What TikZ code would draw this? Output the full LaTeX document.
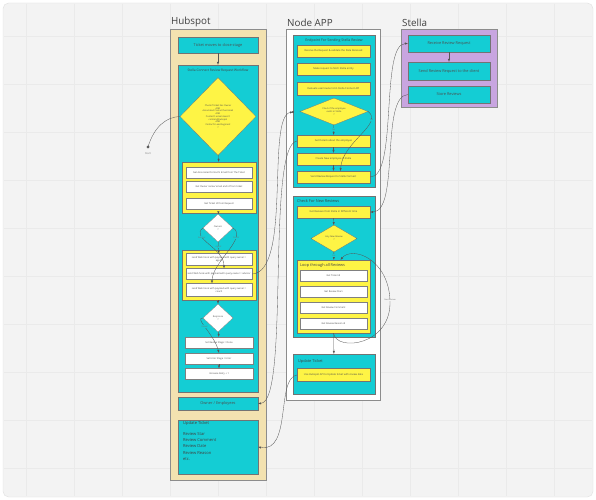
\documentclass[tikz,border=0pt]{standalone}
\usepackage{fontspec}
\setmainfont{Open Sans}
\usetikzlibrary{shapes.geometric}
\definecolor{boardgray}{HTML}{F3F3F3}
\definecolor{gridgray}{HTML}{EAEAEA}
\definecolor{hubtan}{HTML}{F3E2B0}
\definecolor{miroteal}{HTML}{14CDD4}
\definecolor{miroyellow}{HTML}{FEF445}
\definecolor{stellapurple}{HTML}{C8A5E0}
\definecolor{linkgray}{HTML}{555555}

\begin{document}
\begin{tikzpicture}[x=0.5mm, y=-0.5mm]
		\tikzset{>=latex}
		\tikzset{
			colframe/.style={draw=black!45, line width=0.7pt, inner sep=0},
			cbox/.style={draw=black!55, fill=miroteal, line width=0.4pt, inner sep=0.5pt, align=center, text=black!70, font=\fontsize{5.5}{6.5}\selectfont},
			ybox/.style={draw=black!55, fill=miroyellow, line width=0.4pt, inner sep=0.5pt, align=center, text=black!70, font=\fontsize{3.6}{4.3}\selectfont},
			wbox/.style={draw=black!50, fill=white, line width=0.4pt, inner sep=0.5pt, align=center, text=black!70, font=\fontsize{3.4}{4.1}\selectfont},
			ydiam/.style={diamond, draw=black!55, fill=miroyellow, line width=0.4pt, inner sep=0, align=center, text=black!70, font=\fontsize{3.2}{3.9}\selectfont},
			wdiam/.style={diamond, draw=black!50, fill=white, line width=0.4pt, inner sep=0, align=center, text=black!70, font=\fontsize{3.2}{3.9}\selectfont},
			coltitle/.style={anchor=south west, inner sep=0, text=black!75, font=\fontsize{14}{16}\selectfont},
			boxhead/.style={anchor=west, inner sep=0, text=black!75, font=\fontsize{5.5}{6.5}\selectfont},
			conn/.style={draw=linkgray, line width=0.45pt},
			tag/.style={inner sep=0.5pt, text=black!55, font=\fontsize{3}{3.5}\selectfont},
		}
		% board
		\fill[white] (0,0) rectangle (596,500);
		\draw[fill=boardgray, draw=black!12, line width=0.6pt, rounded corners=8] (3,3) rectangle (593,497);
		\foreach \gx in {26,74,...,570} \draw[gridgray, line width=0.3pt] (\gx,4) -- (\gx,496);
		\foreach \gy in {36,84,...,480} \draw[gridgray, line width=0.3pt] (4,\gy) -- (592,\gy);
		\useasboundingbox (0,0) rectangle (596,500);

		% Hubspot
		\node[coltitle] (hubtitle) at (171,27) {Hubspot};
		\node[colframe, fill=hubtan, minimum width=48mm, minimum height=225.5mm] (hub) at (218,254.5) {};
		\node[cbox, minimum width=40mm, minimum height=8mm] (ticket) at (218,45) {Ticket moves to close stage};
		\node[cbox, minimum width=40mm, minimum height=163.5mm] (workflow) at (218,228.5) {};
		\node[boxhead, anchor=center, font=\fontsize{4.6}{5.5}\selectfont] (wftitle) at (218,71) {Stella Connect Review Request Workflow};
		\node[ydiam, minimum width=38mm, minimum height=39mm] (ownercheck) at (218,116.5) {Check if ticket has Owner\\AND\\Associated Contact has Email\\AND\\Contact's email doesn't\\contain@hubspot\\AND\\Contact's Lead Segment\\?};
		\node[ybox, minimum width=37mm, minimum height=25.5mm] (getgroup) at (219,187.5) {};
		\node[wbox, minimum width=33mm, minimum height=5.5mm] (getemail) at (219,172.5) {Get Associated Contact's Email from The Ticket};
		\node[wbox, minimum width=33mm, minimum height=5.5mm] (getowner) at (219,187) {Get Owner name/ email and id from ticket};
		\node[wbox, minimum width=33mm, minimum height=5.5mm] (getid) at (219,203.5) {Get Ticket Id from Request};
		\node[wdiam, minimum width=15mm, minimum height=14mm] (owners) at (218,228) {Owners\\?};
		\node[ybox, minimum width=37mm, minimum height=25mm] (hookgroup) at (219,275) {};
		\node[wbox, minimum width=33mm, minimum height=6mm] (hooka) at (219,259.5) {send Web hook with payload with query owner =\\agent};
		\node[wbox, minimum width=33mm, minimum height=5.5mm] (hookb) at (219,274) {send Web hook with payload with query owner = advisor};
		\node[wbox, minimum width=33mm, minimum height=6.5mm] (hookc) at (219,290) {send Web hook with payload with query owner =\\coach};
		\node[wdiam, minimum width=15mm, minimum height=14mm] (response) at (218,318) {Response\\?};
		\node[wbox, minimum width=34mm, minimum height=5.5mm] (setdone) at (219,342.5) {Set Review Stage = Done};
		\node[wbox, minimum width=34mm, minimum height=5.5mm] (seterror) at (219,358.5) {Set Error Stage = Error};
		\node[wbox, minimum width=34mm, minimum height=5.5mm] (setretry) at (219,374) {Increase Retry + 1};
		\node[cbox, minimum width=40mm, minimum height=6.5mm] (ownerempl) at (218,403.5) {Owner / Employees};
		\node[cbox, minimum width=40mm, minimum height=27mm] (hubupd) at (218,447) {};
		\node[boxhead, anchor=north west, align=left, font=\fontsize{5.8}{9}\selectfont] (hubupdtext) at (183,421.5) {Update Ticket\\[6pt]Review Star\\Review Comment\\Review Date\\Review Reason\\etc.};

		% Node APP
		\node[coltitle] (nodetitle) at (287,27) {Node APP};
		\node[colframe, fill=white, minimum width=47mm, minimum height=185.5mm] (nodeapp) at (333,214.5) {};
		\node[cbox, minimum width=41mm, minimum height=76mm] (endpoint) at (334,111) {};
		\node[boxhead, anchor=center, font=\fontsize{5}{6}\selectfont] (eptitle) at (334,40.5) {Endpoint For Sending Stella Review};
		\node[ybox, minimum width=36.5mm, minimum height=6mm] (receive) at (333.5,51) {Receive the Request \& validate the Data Received};
		\node[ybox, minimum width=36.5mm, minimum height=6mm] (fetch) at (333.5,69) {Make request to fetch Stella entity};
		\node[ybox, minimum width=36.5mm, minimum height=6.5mm] (evaluate) at (333.5,88.5) {Evaluate user/owner id in Stella Connect API};
		\node[ydiam, aspect=2.5, minimum width=34mm, minimum height=13.5mm] (empcheck) at (334,111.5) {Check if the employee\\exists in Stella\\?};
		\node[ybox, minimum width=36.5mm, minimum height=6mm] (details) at (333.5,141) {Get Details about the employee};
		\node[ybox, minimum width=36.5mm, minimum height=6mm] (createemp) at (333.5,159) {Create New employee in Stella};
		\node[ybox, minimum width=36.5mm, minimum height=6mm] (sendreq) at (333.5,177) {Send Review Request to Stella Connect};
		\node[cbox, minimum width=41mm, minimum height=70.5mm] (checknew) at (334,266.5) {};
		\node[boxhead] (cntitle) at (297,201.5) {Check For New Reviews};
		\node[ybox, minimum width=36.5mm, minimum height=6mm] (getrev) at (333.5,212) {Get Reviews from Stella in Different time};
		\node[ydiam, aspect=1.7, minimum width=23mm, minimum height=13.5mm] (anynew) at (334,238.5) {Any New Review\\?};
		\node[ybox, minimum width=36.5mm, minimum height=36.5mm] (loop) at (333.5,296.5) {};
		\node[boxhead] (looptitle) at (300,265.5) {Loop through all Reviews};
		\node[wbox, minimum width=33.5mm, minimum height=5.5mm] (revticket) at (333.5,276) {Get Ticket id};
		\node[wbox, minimum width=33.5mm, minimum height=5.5mm] (revstars) at (333.5,292) {Get Review Stars};
		\node[wbox, minimum width=33.5mm, minimum height=5.5mm] (revcomment) at (333.5,308) {Get Review Comment};
		\node[wbox, minimum width=33.5mm, minimum height=5.5mm] (revreason) at (333.5,324) {Get Review Reason id};
		\node[cbox, minimum width=41mm, minimum height=20mm] (nodeupd) at (334,374) {};
		\node[boxhead] (nutitle) at (298,361.5) {Update Ticket};
		\node[ybox, minimum width=36.5mm, minimum height=6.5mm] (useapi) at (333.5,375) {Use Hubspot API to Update ticket with review data};

		% Stella
		\node[coltitle] (stellatitle) at (402,27) {Stella};
		\node[colframe, fill=stellapurple, minimum width=48mm, minimum height=39mm] (stella) at (449,68) {};
		\node[cbox, minimum width=41mm, minimum height=8.5mm] (recv) at (449,43.5) {Receive Review Request};
		\node[cbox, minimum width=41mm, minimum height=9mm] (sendclient) at (449,71) {Send Review Request to the client};
		\node[cbox, minimum width=41mm, minimum height=8.5mm] (store) at (449,94.5) {Store Reviews};

		% start point
		\coordinate (start) at (148,147);
		\filldraw[linkgray] (start) circle (1.3);
		\node[tag, font=\fontsize{3.6}{4}\selectfont] (starttag) at (148,153.5) {Start};
		\draw[conn] (start) .. controls (154,127) and (166,117) .. (ownercheck.west);

		% Hubspot links
		\draw[conn,->] (ticket) -- (workflow);
		\draw[conn,->] (ownercheck) -- (getgroup);
		\draw[conn,->] (getgroup) -- (owners);
		\draw[conn,->] (owners) -- node[tag, fill=miroteal, pos=0.45] {Agent} (hooka);
		\draw[conn,->] (owners.west) .. controls (190,238) and (224,248) .. node[tag, fill=miroteal, pos=0.3] {Advisor} ([xshift=2.5mm]hookb.north);
		\draw[conn,->] (owners.east) .. controls (248,238) and (212,262) .. node[tag, fill=miroteal, pos=0.25] {Coach} ([xshift=-3.5mm]hookc.north);
		\draw[conn,->] (hookgroup.south -| response) -- (response);
		\draw[conn,->] (response) -- (setdone);
		\draw[conn,->] (response.west) .. controls (194,318) and (214,334) .. node[tag, pos=0.45, fill=miroteal] {Failed} (seterror.north);
		\draw[conn,->] (seterror) -- (setretry);

		% Hubspot <-> Node APP
		\coordinate (epin) at (293,112);
		\draw[conn,->] (hookb.east) .. controls (292,272) and (266,116) .. (epin);
		\filldraw[linkgray] (epin) circle (0.9);
		\draw[conn,->] (details.west) .. controls (266,146) and (290,402) .. (ownerempl.east);
		\draw[conn,->] (useapi.west) .. controls (276,378) and (292,453) .. (hubupd.east);

		% Node APP links
		\draw[conn,->] (empcheck) -- node[tag, fill=miroteal, pos=0.45] {No} (details);
		\draw[conn,->] (details) -- (createemp);
		\draw[conn,->] (createemp) -- (sendreq);
		\draw[conn,->] (empcheck.east) .. controls (384,124) and (342,142) .. node[tag, fill=miroteal, pos=0.2] {Yes} ([xshift=3.5mm]sendreq.north);
		\draw[conn,->] (getrev) -- (anynew);
		\draw[conn,->] (anynew) -- node[tag, fill=miroteal, pos=0.45] {Yes} (loop);
		\draw[conn,->] (loop.south) .. controls (336,352) and (392,346) .. (390,300) node[tag, fill=boardgray, font=\fontsize{2.8}{3}\selectfont] {Next Review} .. controls (388,258) and (352,246) .. ([xshift=3.5mm]loop.north);
		\draw[conn,->] (loop) -- (nodeupd);

		% Node APP <-> Stella
		\draw[conn,->] (sendreq.east) .. controls (398,178) and (380,44) .. (recv.west);
		\draw[conn,->] (recv) -- (sendclient);
		\draw[conn,->] (store.west) .. controls (380,96) and (400,212) .. (getrev.east);
	    \end{tikzpicture}
\end{document}
